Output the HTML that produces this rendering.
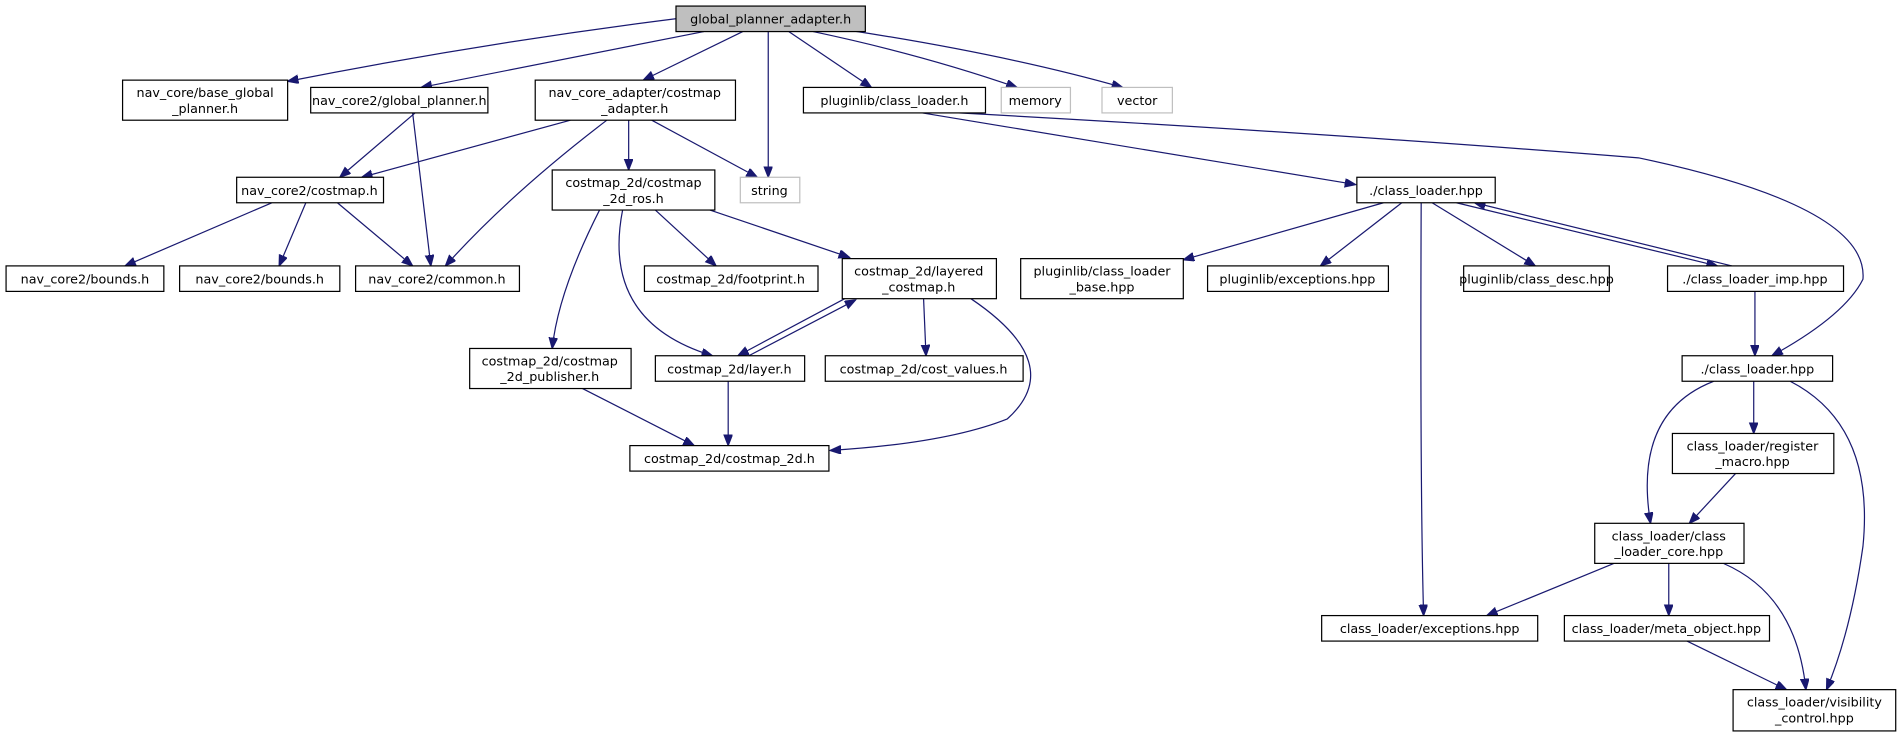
<!DOCTYPE html>
<html><head><meta charset="utf-8"><style>
html,body{margin:0;padding:0;background:#fff;}
svg{display:block;}
text{font-family:"DejaVu Sans","Liberation Sans",sans-serif;font-size:10.5px;fill:#000;text-anchor:middle;}
.b{fill:#fff;stroke:#000;stroke-width:1;}
.g{fill:#fff;stroke:#bfbfbf;stroke-width:1;}
.e{fill:none;stroke:#191970;stroke-width:1;}
</style></head><body>
<svg width="1903" height="737" viewBox="0 0 1568 607" preserveAspectRatio="none" xmlns="http://www.w3.org/2000/svg">
<defs><marker id="a" markerUnits="userSpaceOnUse" markerWidth="10" markerHeight="8" refX="9" refY="3.5" orient="auto"><path d="M0,0 L9,3.5 L0,7 Z" fill="#191970" stroke="#191970"/></marker></defs>
<g marker-end="url(#a)">
<path class="e" d="M560,15 Q400,35 237,67"/>
<path class="e" d="M580,26 L347,72"/>
<path class="e" d="M612,26 L530,66"/>
<path class="e" d="M633,26 L633,146"/>
<path class="e" d="M650,26 L718,72"/>
<path class="e" d="M670,26 Q760,45 838,72"/>
<path class="e" d="M700,25 Q830,45 925,72"/>
<path class="e" d="M342,93 L280,146"/>
<path class="e" d="M340,93 L355,219"/>
<path class="e" d="M470,99 L298,146"/>
<path class="e" d="M500,99 Q420,160 367,219"/>
<path class="e" d="M518,99 L518,140"/>
<path class="e" d="M537,99 L624,146"/>
<path class="e" d="M224,167 L103,219"/>
<path class="e" d="M252,167 L230,219"/>
<path class="e" d="M278,167 L340,219"/>
<path class="e" d="M540,173 L590,219"/>
<path class="e" d="M585,173 L700,212"/>
<path class="e" d="M513,173 Q495,265 587,293"/>
<path class="e" d="M494,173 Q460,240 455,287"/>
<path class="e" d="M696,246 L608,293"/>
<path class="e" d="M617,293 L705,247"/>
<path class="e" d="M761,246 L763,293"/>
<path class="e" d="M800,246 Q880,300 830,345 Q780,365 684,371"/>
<path class="e" d="M480,320 L572,367"/>
<path class="e" d="M600,314 L600,367"/>
<path class="e" d="M760,93 L1117,152"/>
<path class="e" d="M790,93 Q1100,110 1350,130 Q1540,170 1535,230 Q1520,260 1460,293"/>
<path class="e" d="M1140,167 L975,214"/>
<path class="e" d="M1155,167 L1088,219"/>
<path class="e" d="M1180,167 L1265,219"/>
<path class="e" d="M1200,167 L1415,219"/>
<path class="e" d="M1427,219 L1215,167"/>
<path class="e" d="M1171,167 Q1170,400 1173,507"/>
<path class="e" d="M1446,240 L1446,293"/>
<path class="e" d="M1445,314 L1445,357"/>
<path class="e" d="M1412,314 Q1345,340 1360,431"/>
<path class="e" d="M1475,314 Q1545,350 1535,450 Q1525,520 1505,568"/>
<path class="e" d="M1430,390 L1392,431"/>
<path class="e" d="M1330,464 L1225,507"/>
<path class="e" d="M1375,464 L1375,507"/>
<path class="e" d="M1420,464 Q1480,490 1488,568"/>
<path class="e" d="M1390,528 L1472,568"/>
</g>
<rect x="557" y="5" width="156" height="21" fill="#bfbfbf" stroke="#000"/><text x="635" y="19.5">global_planner_adapter.h</text>
<rect class="b" x="101" y="66" width="136" height="33"/><text x="169" y="80">nav_core/base_global</text><text x="169" y="93">_planner.h</text>
<rect class="b" x="256" y="72" width="146" height="21"/><text x="329" y="86.5">nav_core2/global_planner.h</text>
<rect class="b" x="441" y="66" width="165" height="33"/><text x="523" y="80">nav_core_adapter/costmap</text><text x="523" y="93">_adapter.h</text>
<rect class="b" x="662" y="72" width="150" height="21"/><text x="737" y="86.5">pluginlib/class_loader.h</text>
<rect class="g" x="825" y="72" width="57" height="21"/><text x="853" y="86.5">memory</text>
<rect class="g" x="908" y="72" width="58" height="21"/><text x="937" y="86.5">vector</text>
<rect class="g" x="610" y="146" width="49" height="21"/><text x="634" y="160.5">string</text>
<rect class="b" x="455" y="140" width="134" height="33"/><text x="522" y="154">costmap_2d/costmap</text><text x="522" y="167">_2d_ros.h</text>
<rect class="b" x="195" y="146" width="121" height="21"/><text x="255" y="160.5">nav_core2/costmap.h</text>
<rect class="b" x="5" y="219" width="130" height="21"/><text x="70" y="233.5">nav_core2/bounds.h</text>
<rect class="b" x="148" y="219" width="132" height="21"/><text x="214" y="233.5">nav_core2/bounds.h</text>
<rect class="b" x="293" y="219" width="135" height="21"/><text x="360" y="233.5">nav_core2/common.h</text>
<rect class="b" x="531" y="219" width="143" height="21"/><text x="602" y="233.5">costmap_2d/footprint.h</text>
<rect class="b" x="694" y="213" width="127" height="33"/><text x="757" y="227">costmap_2d/layered</text><text x="757" y="240">_costmap.h</text>
<rect class="b" x="387" y="287" width="133" height="33"/><text x="453" y="301">costmap_2d/costmap</text><text x="453" y="314">_2d_publisher.h</text>
<rect class="b" x="540" y="293" width="123" height="21"/><text x="601" y="307.5">costmap_2d/layer.h</text>
<rect class="b" x="680" y="293" width="163" height="21"/><text x="761" y="307.5">costmap_2d/cost_values.h</text>
<rect class="b" x="519" y="367" width="164" height="21"/><text x="601" y="381.5">costmap_2d/costmap_2d.h</text>
<rect class="b" x="1118" y="146" width="114" height="21"/><text x="1175" y="160.5">./class_loader.hpp</text>
<rect class="b" x="841" y="213" width="134" height="33"/><text x="908" y="227">pluginlib/class_loader</text><text x="908" y="240">_base.hpp</text>
<rect class="b" x="995" y="219" width="149" height="21"/><text x="1069" y="233.5">pluginlib/exceptions.hpp</text>
<rect class="b" x="1206" y="219" width="120" height="21"/><text x="1266" y="233.5">pluginlib/class_desc.hpp</text>
<rect class="b" x="1374" y="219" width="145" height="21"/><text x="1446" y="233.5">./class_loader_imp.hpp</text>
<rect class="b" x="1386" y="293" width="124" height="21"/><text x="1448" y="307.5">./class_loader.hpp</text>
<rect class="b" x="1378" y="357" width="133" height="33"/><text x="1444" y="371">class_loader/register</text><text x="1444" y="384">_macro.hpp</text>
<rect class="b" x="1314" y="431" width="123" height="33"/><text x="1375" y="445">class_loader/class</text><text x="1375" y="458">_loader_core.hpp</text>
<rect class="b" x="1089" y="507" width="178" height="21"/><text x="1178" y="521.5">class_loader/exceptions.hpp</text>
<rect class="b" x="1289" y="507" width="169" height="21"/><text x="1373" y="521.5">class_loader/meta_object.hpp</text>
<rect class="b" x="1428" y="568" width="134" height="34"/><text x="1495" y="582">class_loader/visibility</text><text x="1495" y="595">_control.hpp</text>
</svg>
</body></html>
